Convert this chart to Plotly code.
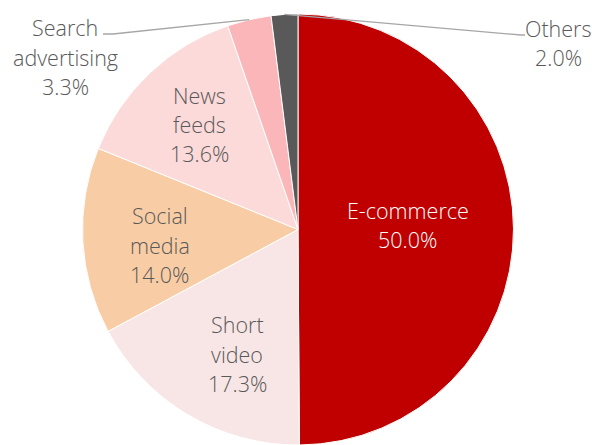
import math
import plotly.graph_objects as go

# Share of marketing spend by channel (%)
categories = ["E-commerce", "Short video", "Social media", "News feeds", "Search advertising", "Others"]
label_lines = [["E-commerce"], ["Short", "video"], ["Social", "media"], ["News", "feeds"],
               ["Search", "advertising"], ["Others"]]
shares = [50.0, 17.3, 14.0, 13.6, 3.3, 2.0]
colors = ["#C00000", "#F8E6E6", "#F8CDA5", "#FCDADA", "#FAB6B9", "#595959"]

W, H = 592, 445
FONT = "Open Sans"
FONT_SIZE = 21.5
LINE_GAP = 29.3
GREY = "#595959"

# pie placement in pixels
left, right, top = 80, 516, 14
radius = min(right - left, H - top) / 2
cx, cy = (left + right) / 2, H - radius

fig = go.Figure(go.Pie(
    labels=categories,
    values=shares,
    textinfo="none",
    marker=dict(colors=colors, line=dict(color="#FFFFFF", width=1)),
    sort=False,
    direction="clockwise",
    rotation=0,
    hoverinfo="skip",
    showlegend=False,
    domain=dict(x=[left / W, right / W], y=[0, (H - top) / H]),
))


def px_to_paper(x, y):
    return x / W, 1 - y / H


# label block centres (pixels) and text colours
label_pos = {
    "E-commerce": (407.5, 225, "#FFFFFF"),
    "Short video": (237, 354, GREY),
    "Social media": (159.5, 245, GREY),
    "News feeds": (199, 124.5, GREY),
    "Search advertising": (65, 57, GREY),
    "Others": (558, 43, GREY),
}

# leader lines for the two small slices, starting at the slice's mid-angle edge
leaders = {
    "Search advertising": [(113, 34), (103, 34)],
    "Others": [(521, 35), (525, 35)],
}

total = sum(shares)
cum = 0.0
mid_angle = {}
for c, v in zip(categories, shares):
    mid_angle[c] = (cum + v / 2) / total * 360
    cum += v

shapes = []
for c, tail in leaders.items():
    a = math.radians(mid_angle[c])
    sx = cx + radius * math.sin(a)
    sy = cy - radius * math.cos(a)
    pts = [(sx, sy)] + tail
    path = "M " + " L ".join(f"{px_to_paper(*p)[0]:.5f},{px_to_paper(*p)[1]:.5f}" for p in pts)
    shapes.append(dict(type="path", xref="paper", yref="paper", path=path,
                       line=dict(color="#A6A6A6", width=1.3)))

annotations = []
for c, lines, v in zip(categories, label_lines, shares):
    bx, by, col = label_pos[c]
    rows = lines + [f"{v:.1f}%"]
    n = len(rows)
    for i, row in enumerate(rows):
        ly = by + (i - (n - 1) / 2) * LINE_GAP
        ax, ay = px_to_paper(bx, ly)
        annotations.append(dict(
            x=ax, y=ay, xref="paper", yref="paper", showarrow=False,
            text=row, xanchor="center", yanchor="middle",
            font=dict(family=FONT, size=FONT_SIZE, color=col, weight=300),
        ))

fig.update_layout(
    width=W, height=H,
    margin=dict(l=0, r=0, t=0, b=0),
    paper_bgcolor="#FFFFFF",
    plot_bgcolor="#FFFFFF",
    shapes=shapes,
    annotations=annotations,
)

fig.write_html("out.html")
